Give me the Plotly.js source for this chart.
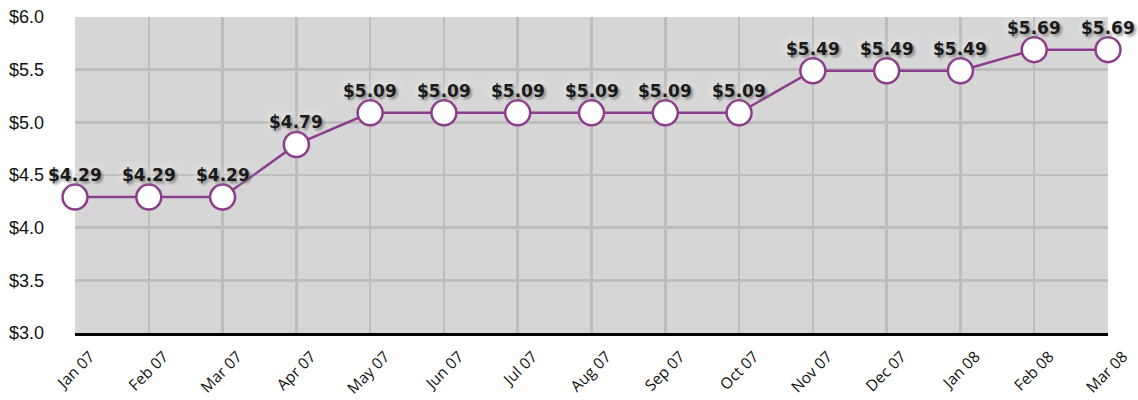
<!DOCTYPE html>
<html>
<head>
<meta charset="utf-8">
<script src="https://cdn.plot.ly/plotly-3.0.1.min.js"></script>
<style>
html,body{margin:0;padding:0;background:#fff;}
#chart{width:1138px;height:400px;}
</style>
</head>
<body>
<div id="chart"></div>
<script>
var months = ["Jan 07","Feb 07","Mar 07","Apr 07","May 07","Jun 07","Jul 07","Aug 07","Sep 07","Oct 07","Nov 07","Dec 07","Jan 08","Feb 08","Mar 08"];
var prices = [4.29,4.29,4.29,4.79,5.09,5.09,5.09,5.09,5.09,5.09,5.49,5.49,5.49,5.69,5.69];
var yTickVals = [3.0,3.5,4.0,4.5,5.0,5.5,6.0];
var yTickText = ["$3.0","$3.5","$4.0","$4.5","$5.0","$5.5","$6.0"];

var labels = prices.map(function(p){ return "$" + p.toFixed(2); });

var trace = {
  x: months,
  y: prices,
  type: "scatter",
  mode: "lines+markers",
  line: {color: "#8a3d8a", width: 2.5},
  marker: {size: 25, color: "#ffffff", line: {color: "#8a3d8a", width: 2.5}},
  cliponaxis: false,
  hoverinfo: "none"
};

var annotations = months.map(function(m, i){
  return {
    x: m, y: prices[i], xref: "x", yref: "y",
    text: labels[i], showarrow: false,
    yshift: 22, xshift: 0,
    font: {family: "DejaVu Sans, Verdana, sans-serif", size: 17, color: "#1a1a1a", weight: "bold",
           shadow: "0 0 10px rgba(255,255,255,0.9), 2px 2px 3px rgba(0,0,0,0.55)"}
  };
});

var layout = {
  width: 1138,
  height: 400,
  margin: {l: 75, r: 30, t: 17, b: 67},
  paper_bgcolor: "#ffffff",
  plot_bgcolor: "#d6d6d6",
  showlegend: false,
  annotations: annotations,
  xaxis: {
    type: "category",
    range: [0, 14],
    showgrid: true,
    gridcolor: "#bdbdbd",
    gridwidth: 2.5,
    tickangle: -45,
    tickfont: {family: "Open Sans, sans-serif", size: 15.5, color: "#111"},
    ticklabelstandoff: 6,
    ticklabelshift: 15,
    showline: true,
    linecolor: "#000",
    linewidth: 2.5,
    ticks: "",
    zeroline: false,
    fixedrange: true
  },
  yaxis: {
    range: [3.0, 6.0],
    tickvals: yTickVals,
    ticktext: yTickText,
    showgrid: true,
    gridcolor: "#bdbdbd",
    gridwidth: 2.5,
    tickfont: {family: "Liberation Sans, Arial, sans-serif", size: 18, color: "#111"},
    ticklabelstandoff: 30,
    zeroline: false,
    showline: false,
    ticks: "",
    fixedrange: true
  }
};

Plotly.newPlot("chart", [trace], layout, {displayModeBar: false, staticPlot: true});
</script>
</body>
</html>
